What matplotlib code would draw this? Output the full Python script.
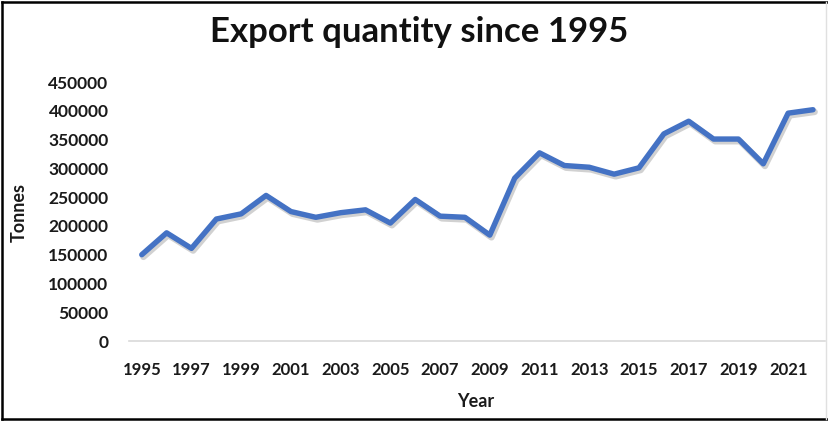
import matplotlib
matplotlib.use("Agg")
import matplotlib.pyplot as plt
import matplotlib.patheffects as pe
from matplotlib.lines import Line2D

years = list(range(1995, 2023))
tonnes = [150000, 188000, 161000, 212000, 221000, 253000, 225000, 215000,
          223000, 228000, 205000, 246000, 217000, 215000, 184000, 283000,
          327000, 305000, 302000, 290000, 301000, 360000, 382000, 351000,
          351000, 308000, 396000, 402000]
xtick_years = list(range(1995, 2022, 2))
ytick_values = list(range(0, 450001, 50000))

plt.rcParams['font.family'] = ['Lato', 'DejaVu Sans']

fig = plt.figure(figsize=(8.29, 4.21), dpi=100)
ax = fig.add_axes([0.156, 0.190, 0.8397, 0.615])

ax.plot(years, tonnes, color='#4472C4', linewidth=3.9, solid_capstyle='round',
        solid_joinstyle='round',
        path_effects=[pe.SimpleLineShadow(offset=(1.2, -1.6), shadow_color='#9a9a9a', alpha=0.45, linewidth=4.6),
                      pe.Normal()])

ax.set_xlim(1994.5, 2022.5)
ax.set_ylim(0, 450000)
ax.set_xticks(xtick_years)
ax.set_xticklabels([str(y) for y in xtick_years])
ax.set_yticks(ytick_values)
ax.set_yticklabels([str(v) for v in ytick_values])
ax.tick_params(axis='x', length=0, labelsize=12, colors='#1a1a1a', pad=15)
ax.tick_params(axis='y', length=0, labelsize=12.5, colors='#1a1a1a', pad=15)
for lab in ax.get_xticklabels() + ax.get_yticklabels():
    lab.set_fontweight('bold')

for side in ['top', 'right', 'left']:
    ax.spines[side].set_visible(False)
ax.spines['bottom'].set_color('#d9d9d9')
ax.spines['bottom'].set_linewidth(1.2)

ax.set_xlabel('Year', fontsize=13, fontweight='bold', color='#1a1a1a', va='center')
ax.set_ylabel('Tonnes', fontsize=13, fontweight='bold', color='#1a1a1a', va='center')
ax.xaxis.set_label_coords(0.498, -0.2355)
ax.yaxis.set_label_coords(-0.1585, 0.498)

fig.text(0.505, 0.924, 'Export quantity since 1995', ha='center', va='center',
         fontsize=25, fontweight='bold', color='#111111')

# outer frame: dark on top, left and bottom, faint on the right
fig.add_artist(Line2D([0.002, 0.002], [0.004, 0.996], color='black', lw=1.8, transform=fig.transFigure))
fig.add_artist(Line2D([0.002, 0.999], [0.996, 0.996], color='black', lw=1.8, transform=fig.transFigure))
fig.add_artist(Line2D([0.002, 0.999], [0.004, 0.004], color='black', lw=1.8, transform=fig.transFigure))
fig.add_artist(Line2D([0.9965, 0.9965], [0.004, 0.996], color='#e0e0e0', lw=1.0, transform=fig.transFigure))

fig.savefig('out.png', dpi=100)
